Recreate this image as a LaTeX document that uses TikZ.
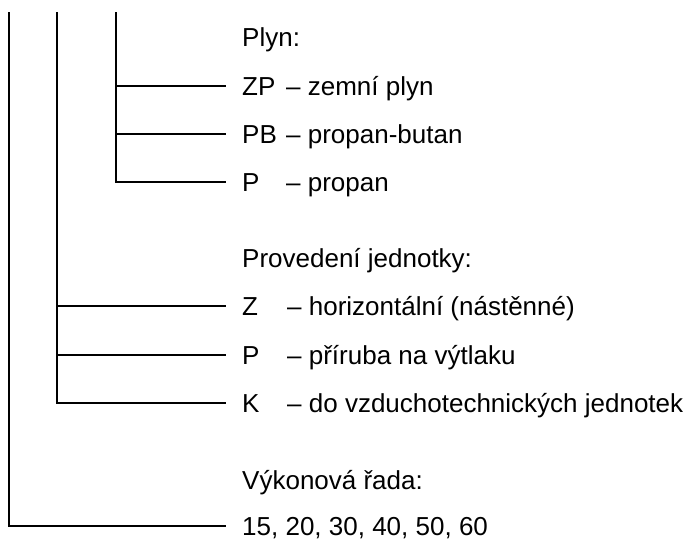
\documentclass[tikz,border=0pt]{standalone}
\usepackage{fontspec}
\setmainfont{Liberation Sans}
\usetikzlibrary{positioning}

\begin{document}
\begin{tikzpicture}[x=1pt,y=-1pt,
  item/.style={anchor=west,inner sep=0pt,text height=18pt,text depth=0pt,
    font=\fontsize{26}{30}\selectfont},
  trunk/.style={line width=2.2pt,shorten >=16pt}]
\useasboundingbox (0,0) rectangle (695,541);
% tops of the three trunks
\coordinate (gasTop) at (116,12);
\coordinate (typeTop) at (57,12);
\coordinate (sizeTop) at (9,12);
% gas
\node[item] (gasHead) at (242,37) {Plyn:};
\node[item] (zp) at (242,86) {ZP};
\node[item] (zpText) at (286,86) {– zemní plyn};
\node[item] (pb) at (242,134) {PB};
\node[item] (pbText) at (286,134) {– propan-butan};
\node[item] (pr) at (242,182) {P};
\node[item] (prText) at (286,182) {– propan};
% unit type
\node[item] (typeHead) at (242,258) {Provedení jednotky:};
\node[item] (tz) at (242,306) {Z};
\node[item] (tzText) at (287,306) {– horizontální (nástěnné)};
\node[item] (tp) at (242,355) {P};
\node[item] (tpText) at (287,355) {– příruba na výtlaku};
\node[item] (tk) at (242,403) {K};
\node[item] (tkText) at (287,403) {– do vzduchotechnických jednotek};
% output range
\node[item] (sizeHead) at (242,480) {Výkonová řada:};
\node[item] (sizes) at (242,526) {15, 20, 30, 40, 50, 60};
% connectors
\draw[trunk] (gasTop) |- (zp);
\draw[trunk] (gasTop) |- (pb);
\draw[trunk] (gasTop) |- (pr);
\draw[trunk] (typeTop) |- (tz);
\draw[trunk] (typeTop) |- (tp);
\draw[trunk] (typeTop) |- (tk);
\draw[trunk] (sizeTop) |- (sizes);
\end{tikzpicture}
\end{document}
